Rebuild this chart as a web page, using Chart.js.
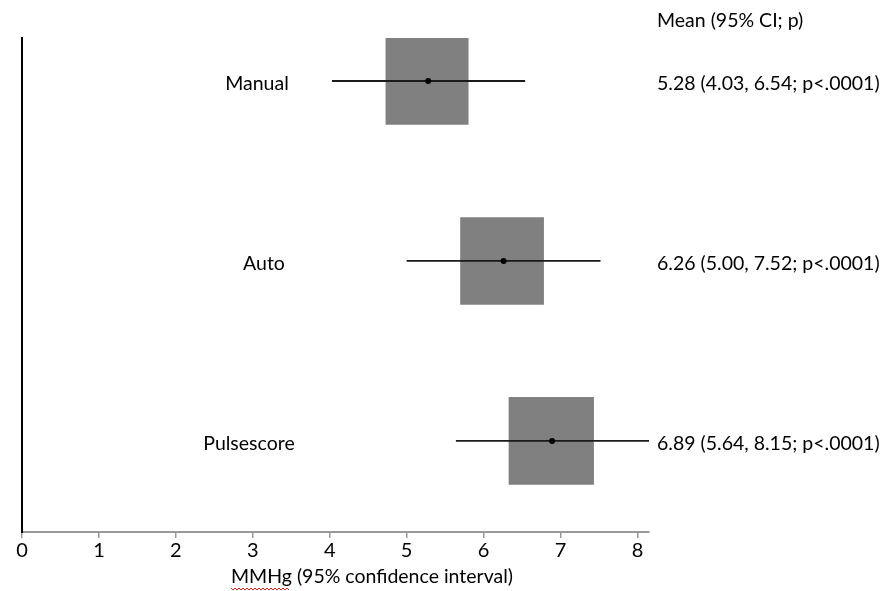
<!DOCTYPE html>
<html lang="en">
<head>
<meta charset="UTF-8" />
<title>Forest plot - MMHg</title>
<script src="https://cdn.jsdelivr.net/npm/chart.js"></script>
<style>
  body { margin: 0; background: #fff; }
</style>
</head>
<body>
<canvas id="forest" width="889" height="591"></canvas>
<script>
// data
const groups = ["Manual", "Auto", "Pulsescore"];
const rowPos = [3, 2, 1];
const means = [5.28, 6.26, 6.89];
const ciLow = [4.03, 5.00, 5.64];
const ciHigh = [6.54, 7.52, 8.15];
const boxLow = [4.73, 5.70, 6.33];
const boxHigh = [5.80, 6.78, 7.43];
const pText = ["p<.0001", "p<.0001", "p<.0001"];
const xTicks = [0, 1, 2, 3, 4, 5, 6, 7, 8];

const FONT = "Lato";

// text drawn beside the plot (row labels, right column, axis title)
const textPlugin = {
    id: "forestText",
    afterDraw(chart) {
        const ctx = chart.ctx;
        const y = chart.scales.y;
        const labelX = [257, 264, 249];
        ctx.save();
        ctx.fillStyle = "#000";
        ctx.font = "19.5px " + FONT;
        ctx.textBaseline = "middle";

        ctx.textAlign = "center";
        groups.forEach((g, i) => {
            ctx.fillText(g, labelX[i], y.getPixelForValue(rowPos[i]) + 3);
        });

        ctx.textAlign = "left";
        ctx.fillText("Mean (95% CI; p)", 657, 21);
        means.forEach((m, i) => {
            const s = m.toFixed(2) + " (" + ciLow[i].toFixed(2) + ", " + ciHigh[i].toFixed(2) + "; " + pText[i] + ")";
            ctx.fillText(s, 657, y.getPixelForValue(rowPos[i]) + 3);
        });

        ctx.textAlign = "center";
        ctx.fillText("MMHg (95% confidence interval)", 372, 577);

        // red spell-check squiggle under MMHg
        ctx.strokeStyle = "#e0201a";
        ctx.lineWidth = 1;
        ctx.beginPath();
        for (let px = 231; px <= 289; px += 2) {
            const py = 589 + ((px - 231) % 4 === 0 ? -1 : 1);
            if (px === 231) ctx.moveTo(px, py); else ctx.lineTo(px, py);
        }
        ctx.stroke();
        ctx.restore();
    }
};

new Chart(document.getElementById("forest"), {
    data: {
        datasets: [
            {
                type: "scatter",
                data: means.map((m, i) => ({ x: m, y: rowPos[i] })),
                pointRadius: 3,
                backgroundColor: "#000",
                borderWidth: 0,
                order: 1
            },
            ...groups.map((g, i) => ({
                type: "line",
                data: [{ x: ciLow[i], y: rowPos[i] }, { x: ciHigh[i], y: rowPos[i] }],
                borderColor: "#1a1a1a",
                borderWidth: 1.8,
                pointRadius: 0,
                fill: false,
                order: 2
            })),
            {
                type: "bar",
                data: groups.map((g, i) => ({ x: [boxLow[i], boxHigh[i]], y: rowPos[i] })),
                backgroundColor: "#808080",
                borderWidth: 0,
                barThickness: 87,
                order: 3
            }
        ]
    },
    options: {
        indexAxis: "y",
        responsive: false,
        animation: false,
        layout: { padding: { left: 22, top: 38, right: 240, bottom: 0 } },
        plugins: {
            legend: { display: false },
            tooltip: { enabled: false }
        },
        scales: {
            x: {
                type: "linear",
                min: 0,
                max: 8.15,
                afterBuildTicks: s => { s.ticks = xTicks.map(v => ({ value: v })); },
                afterFit: s => { s.height = 59; },
                grid: { drawOnChartArea: false, drawTicks: true, tickLength: 6, color: "#999", lineWidth: 1.5 },
                border: { color: "#999", width: 2 },
                ticks: { color: "#000", font: { family: FONT, size: 20 }, padding: 1, maxRotation: 0 }
            },
            y: {
                type: "linear",
                offset: false,
                min: 0.494,
                max: 3.239,
                afterFit: s => { s.width = 0; },
                grid: { display: false, drawTicks: false },
                border: { color: "#000", width: 2 },
                ticks: { display: false }
            }
        }
    },
    plugins: [textPlugin]
});
</script>
</body>
</html>
